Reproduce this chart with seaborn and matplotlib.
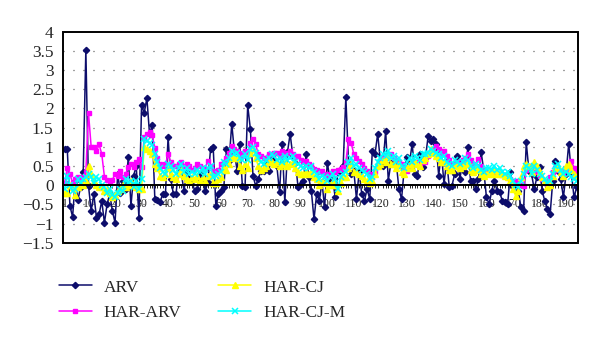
import matplotlib
matplotlib.use("Agg")
import matplotlib.pyplot as plt
from matplotlib.patches import Rectangle
from matplotlib.ticker import MultipleLocator
import numpy as np
import seaborn as sns

# ---- data -------------------------------------------------------------
arv = [
    0.95, 0.93, -0.54, -0.83, 0.12, -0.38, -0.06, 0.33, 3.52, -0.02,
    -0.67, -0.23, -0.85, -0.76, -0.41, -0.98, -0.5, -0.23, -0.67, -0.98,
    0.29, -0.2, 0.12, -0.1, 0.73, -0.54, 0.25, 0.5, -0.85, 2.08,
    1.88, 2.27, 1.34, 1.56, -0.36, -0.38, -0.43, -0.23, -0.23, 1.25,
    0.16, -0.23, -0.23, 0.46, 0.29, -0.15, 0.38, 0.16, 0.12, -0.15,
    -0.09, 0.29, 0.2, -0.15, 0.07, 0.95, 0.99, -0.54, -0.23, -0.15,
    -0.06, 0.95, 0.64, 1.6, 0.86, 0.38, 1.08, -0.02, -0.06, 2.08,
    1.47, 0.25, -0.02, 0.16, 0.38, 0.38, 0.55, 0.38, 0.77, 0.64,
    0.5, -0.19, 1.08, -0.45, 0.86, 1.34, 0.77, 0.59, -0.06, 0.03,
    0.12, 0.81, 0.2, -0.15, -0.89, -0.23, -0.41, 0.07, -0.58, 0.59,
    0.16, 0.16, -0.32, 0.33, 0.4, 0.51, 2.3, 0.59, 0.29, 0.38,
    -0.36, 0.33, -0.23, -0.41, -0.1, -0.36, 0.9, 0.81, 1.34, 0.64,
    0.51, 1.42, 0.12, 0.59, 0.55, 0.59, -0.1, -0.36, 0.42, 0.73,
    0.59, 1.08, 0.29, 0.25, 0.81, 0.46, 0.7, 1.27, 1.16, 1.21,
    1.08, 0.25, 0.86, 0.03, 0.64, -0.06, -0.02, 0.29, 0.77, 0.16,
    0.64, 0.33, 0.99, 0.12, 0.12, -0.1, 0.16, 0.86, 0.38, -0.32,
    -0.49, -0.15, 0.12, -0.15, -0.19, -0.41, -0.45, -0.49, 0.33, -0.02,
    -0.15, -0.15, -0.58, -0.67, 1.12, 0.38, 0.29, -0.1, 0.2, 0.46,
    -0.15, -0.41, -0.63, -0.76, 0.12, 0.64, 0.38, 0.16, -0.32, 0.29,
    1.08, 0.33, -0.32, -0.06,
]

har_arv = [
    0.05, 0.45, 0.3, 0.05, 0.15, 0.2, 0.1, 0.2, 0.35, 1.88,
    1.0, 1.0, 0.88, 1.06, 0.81, 0.22, 0.14, 0.08, 0.13, 0.3,
    0.25, 0.38, 0.2, 0.3, 0.46, 0.54, 0.46, 0.6, 0.68, 0.46,
    1.25, 1.33, 1.38, 1.3, 0.97, 0.72, 0.54, 0.5, 0.54, 0.8,
    0.6, 0.5, 0.5, 0.55, 0.6, 0.5, 0.55, 0.5, 0.4, 0.45,
    0.55, 0.5, 0.45, 0.42, 0.64, 0.5, 0.36, 0.33, 0.4, 0.55,
    0.6, 0.7, 0.85, 1.03, 0.95, 0.9, 0.85, 0.75, 0.9, 0.8,
    1.1, 1.21, 1.06, 0.81, 0.75, 0.7, 0.72, 0.81, 0.8, 0.85,
    0.85, 0.75, 0.9, 0.85, 0.85, 0.9, 0.8, 0.73, 0.75, 0.65,
    0.6, 0.64, 0.55, 0.5, 0.42, 0.4, 0.35, 0.36, 0.3, 0.26,
    0.3, 0.38, 0.35, 0.4, 0.42, 0.46, 0.6, 1.21, 1.1, 0.81,
    0.7, 0.64, 0.55, 0.45, 0.38, 0.3, 0.2, 0.35, 0.5, 0.64,
    0.7, 0.75, 0.73, 0.8, 0.7, 0.65, 0.6, 0.55, 0.45, 0.38,
    0.45, 0.55, 0.6, 0.58, 0.55, 0.6, 0.6, 0.75, 0.85, 0.95,
    1.03, 0.95, 0.85, 0.9, 0.75, 0.65, 0.55, 0.55, 0.6, 0.55,
    0.65, 0.7, 0.81, 0.65, 0.55, 0.5, 0.68, 0.5, 0.4, 0.33,
    0.35, 0.3, 0.35, 0.32, 0.28, 0.27, 0.25, 0.2, 0.15, 0.1,
    0.12, 0.05, 0.0, -0.02, 0.4, 0.46, 0.5, 0.45, 0.35, 0.25,
    0.15, 0.1, 0.02, 0.2, 0.35, 0.45, 0.4, 0.38, 0.3, 0.4,
    0.5, 0.64, 0.45, 0.35,
]

har_cj = [
    -0.2, -0.2, 0.0, -0.05, -0.25, -0.05, 0.05, 0.0, 0.1, 0.5,
    0.3, 0.1, 0.0, -0.05, -0.05, -0.15, -0.1, -0.2, -0.3, -0.25,
    -0.15, -0.1, 0.0, -0.05, 0.0, 0.1, 0.0, -0.05, -0.1, -0.1,
    1.0, 0.95, 0.9, 0.8, 0.55, 0.45, 0.25, 0.2, 0.3, 0.45,
    0.3, 0.2, 0.15, 0.3, 0.4, 0.25, 0.15, 0.1, 0.2, 0.15,
    0.25, 0.1, 0.2, 0.1, 0.25, 0.3, 0.05, 0.05, 0.15, 0.2,
    0.45, 0.4, 0.55, 0.7, 0.75, 0.7, 0.5, 0.4, 0.55, 0.45,
    0.85, 0.95, 0.7, 0.5, 0.4, 0.45, 0.5, 0.6, 0.6, 0.55,
    0.6, 0.5, 0.55, 0.6, 0.5, 0.55, 0.6, 0.45, 0.35, 0.3,
    0.3, 0.35, 0.3, 0.35, 0.2, 0.15, 0.0, 0.1, 0.05, -0.1,
    0.0, 0.1, 0.0, -0.15, 0.05, 0.2, 0.2, 0.45, 0.55, 0.35,
    0.35, 0.3, 0.25, 0.15, 0.1, 0.05, 0.1, 0.3, 0.5, 0.55,
    0.65, 0.6, 0.75, 0.55, 0.55, 0.45, 0.55, 0.35, 0.3, 0.45,
    0.55, 0.45, 0.6, 0.55, 0.5, 0.65, 0.7, 0.8, 0.95, 0.85,
    0.75, 0.7, 0.6, 0.6, 0.5, 0.4, 0.4, 0.5, 0.5, 0.45,
    0.5, 0.55, 0.6, 0.4, 0.35, 0.45, 0.4, 0.3, 0.25, 0.3,
    0.35, 0.3, 0.4, 0.3, 0.35, 0.3, 0.25, 0.2, 0.1, -0.1,
    -0.28, -0.15, 0.2, 0.5, 0.55, 0.5, 0.35, 0.6, 0.5, 0.35,
    0.2, 0.1, -0.05, 0.0, 0.25, 0.45, 0.5, 0.35, 0.25, 0.5,
    0.55, 0.4, 0.3, 0.25,
]

har_cj_m = [
    -0.1, 0.25, 0.0, -0.15, -0.1, 0.15, 0.05, 0.15, 0.2, 0.3,
    0.2, 0.05, 0.2, 0.15, 0.0, -0.05, -0.2, -0.1, -0.25, -0.3,
    -0.2, -0.1, -0.15, 0.15, 0.05, 0.1, -0.05, 0.1, -0.1, 0.15,
    1.2, 1.15, 1.1, 1.05, 0.8, 0.6, 0.45, 0.35, 0.3, 0.55,
    0.5, 0.4, 0.3, 0.45, 0.55, 0.35, 0.45, 0.3, 0.35, 0.3,
    0.4, 0.35, 0.45, 0.3, 0.45, 0.5, 0.2, 0.25, 0.3, 0.35,
    0.6, 0.55, 0.7, 0.9, 0.8, 0.85, 0.7, 0.65, 0.8, 0.65,
    0.95, 1.0, 0.85, 0.7, 0.6, 0.55, 0.65, 0.7, 0.8, 0.75,
    0.65, 0.7, 0.6, 0.75, 0.65, 0.7, 0.75, 0.6, 0.55, 0.5,
    0.45, 0.5, 0.45, 0.5, 0.35, 0.3, 0.15, 0.25, 0.2, 0.1,
    0.2, 0.3, 0.15, -0.1, 0.2, 0.3, 0.35, 0.6, 0.7, 0.5,
    0.55, 0.45, 0.4, 0.35, 0.3, 0.15, 0.2, 0.45, 0.6, 0.7,
    0.8, 0.75, 0.9, 0.7, 0.75, 0.6, 0.7, 0.5, 0.45, 0.6,
    0.7, 0.6, 0.75, 0.7, 0.65, 0.8, 0.8, 0.85, 0.95, 0.9,
    0.85, 0.8, 0.7, 0.75, 0.6, 0.55, 0.5, 0.65, 0.6, 0.55,
    0.6, 0.7, 0.65, 0.5, 0.45, 0.55, 0.5, 0.4, 0.35, 0.45,
    0.45, 0.4, 0.5, 0.4, 0.45, 0.35, 0.3, 0.35, 0.25, 0.1,
    0.0, -0.05, 0.1, 0.3, 0.5, 0.45, 0.3, 0.5, 0.4, 0.3,
    0.25, 0.15, 0.05, 0.1, 0.3, 0.5, 0.55, 0.4, 0.3, 0.35,
    0.3, 0.2, 0.15, 0.1,
]

series_names = ["ARV", "HAR-ARV", "HAR-CJ", "HAR-CJ-M"]
xtick_values = [1] + list(range(10, 200, 10))
xtick_labels = [str(v) for v in xtick_values]
ytick_values = [-1.5, -1, -0.5, 0, 0.5, 1, 1.5, 2, 2.5, 3, 3.5, 4]
ytick_labels = ["\u22121.5", "\u22121", "\u22120.5", "0", "0.5", "1",
                "1.5", "2", "2.5", "3", "3.5", "4"]

# ---- style ------------------------------------------------------------
sns.set_theme(style="white")
plt.rcParams["font.family"] = ["Liberation Serif", "DejaVu Serif"]
plt.rcParams["axes.unicode_minus"] = True

fig = plt.figure(figsize=(6.0, 3.42), dpi=100)
ax = fig.add_axes([0.1055, 0.2904, 0.8578, 0.6169])

idx = np.arange(1, len(arv) + 1)
styles = [
    (arv, "#0d0d6b", "D", 3.2, 1.1, 1.0),
    (har_arv, "#ff00ff", "s", 3.4, 1.1, 1.0),
    (har_cj, "#ffff00", "^", 4.2, 1.1, 1.0),
    (har_cj_m, "#00ffff", "x", 4.0, 1.1, 1.1),
]
for (vals, col, mk, ms, lw, mew), name in zip(styles, series_names):
    sns.lineplot(x=idx, y=np.asarray(vals), ax=ax, color=col, marker=mk,
                 markersize=ms, linewidth=lw, markeredgecolor=col,
                 markerfacecolor=col, markeredgewidth=mew, label=name,
                 legend=False)

# axes limits and dotted horizontal grid
ax.set_xlim(0.5, len(arv) + 0.5)
ax.set_ylim(-1.5, 4)
for yv in ytick_values:
    if yv in (0, 4, -1.5):
        continue
    ax.axhline(yv, color="#444444", lw=0.9, ls=(0, (0.8, 7.2)), zorder=0)

# zero axis with category ticks
for side in ("top", "right", "left"):
    ax.spines[side].set_visible(False)
ax.spines["bottom"].set_position(("data", 0))
ax.spines["bottom"].set_color("black")
ax.spines["bottom"].set_linewidth(1.4)
ax.set_xticks(xtick_values)
ax.set_xticklabels(xtick_labels, fontsize=8.5)
ax.xaxis.set_minor_locator(MultipleLocator(1))
ax.tick_params(axis="x", which="major", length=2.5, width=0.6,
               direction="out", pad=7, color="black")
ax.tick_params(axis="x", which="minor", length=2.5, width=0.6,
               direction="out", color="black", bottom=True)

ax.set_yticks(ytick_values)
ax.set_yticklabels(ytick_labels, fontsize=12.5)
ax.tick_params(axis="y", length=0, pad=7)
ax.set_xlabel("")
ax.set_ylabel("")

# plot-area frame
ax.add_patch(Rectangle((0, 0), 1, 1, transform=ax.transAxes, fill=False,
                       edgecolor="black", lw=1.4, clip_on=False, zorder=5))

handles, labels = ax.get_legend_handles_labels()
fig.legend(handles, labels, loc="upper left", ncol=2, frameon=False,
           bbox_to_anchor=(0.098, 0.183), fontsize=12.5, handlelength=1.9,
           handletextpad=0.7, columnspacing=2.1, labelspacing=0.55,
           borderpad=0, borderaxespad=0)

fig.savefig("out.png", dpi=100)
